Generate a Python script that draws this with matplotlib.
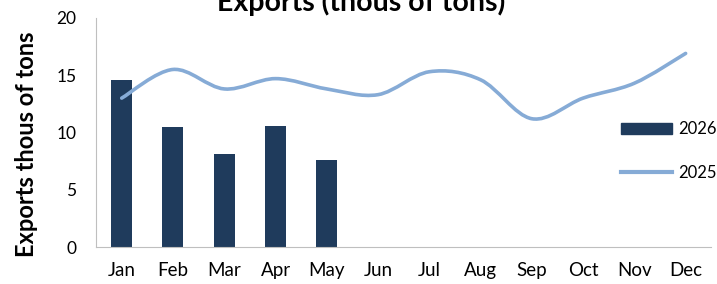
import numpy as np
import matplotlib.pyplot as plt
from matplotlib.path import Path
from matplotlib.patches import PathPatch
from matplotlib.lines import Line2D

plt.rcParams['font.family'] = ['Lato', 'DejaVu Sans']

months = ['Jan', 'Feb', 'Mar', 'Apr', 'May', 'Jun', 'Jul', 'Aug', 'Sep', 'Oct', 'Nov', 'Dec']
exports_2026 = [14.6, 10.45, 8.1, 10.6, 7.6]
exports_2025 = [13.0, 15.5, 13.8, 14.7, 13.8, 13.3, 15.3, 14.6, 11.2, 13.0, 14.3, 16.9]

bar_col = '#1f3b5c'
line_col = '#86abd6'

fig = plt.figure(figsize=(7.17, 2.84), dpi=100)
ax = fig.add_axes([0.134, 0.130, 0.858, 0.807])

x = np.arange(len(months))
ax.bar(x[:len(exports_2026)], exports_2026, width=0.41, color=bar_col, zorder=2)

# smoothed line like excel (bezier through the points)
px = x.astype(float)
py = np.array(exports_2025, dtype=float)
verts = [(px[0], py[0])]
codes = [Path.MOVETO]
n = len(px)
for i in range(n - 1):
    p0 = (px[max(i - 1, 0)], py[max(i - 1, 0)])
    p1 = (px[i], py[i])
    p2 = (px[i + 1], py[i + 1])
    p3 = (px[min(i + 2, n - 1)], py[min(i + 2, n - 1)])
    c1 = (p1[0] + (p2[0] - p0[0]) / 6, p1[1] + (p2[1] - p0[1]) / 6)
    c2 = (p2[0] - (p3[0] - p1[0]) / 6, p2[1] - (p3[1] - p1[1]) / 6)
    verts += [c1, c2, p2]
    codes += [Path.CURVE4] * 3
ax.add_patch(PathPatch(Path(verts, codes), facecolor='none', edgecolor=line_col,
                       lw=2.6, capstyle='round', zorder=3))

ax.set_xlim(-0.5, 11.5)
ax.set_ylim(0, 20)
ax.set_yticks([0, 5, 10, 15, 20])
ax.set_xticks(x)
ax.set_xticklabels(months, fontsize=13.5)
ax.tick_params(axis='y', labelsize=12.5, length=0, pad=14)
ax.tick_params(axis='x', length=0, pad=11)
for s in ['top', 'right']:
    ax.spines[s].set_visible(False)
for s in ['left', 'bottom']:
    ax.spines[s].set_color('#bfbfbf')

fig.text(27 / 717, 0.493, 'Exports thous of tons', rotation=90, ha='center', va='center',
         fontsize=17, fontweight='bold')
fig.text(0.503, 0.962, 'Exports (thous of tons)', ha='center', va='baseline',
         fontsize=20.5, fontweight='bold')

handles = [plt.Rectangle((0, 0), 1, 1, color=bar_col),
           Line2D([0], [0], color=line_col, lw=3)]
ax.legend(handles, ['2026', '2025'], loc='center left', bbox_to_anchor=(0.829, 0.419),
          frameon=False, fontsize=12, handlelength=3.05, handleheight=0.65,
          labelspacing=1.65, handletextpad=0.35)

fig.savefig('out.png', dpi=100)
